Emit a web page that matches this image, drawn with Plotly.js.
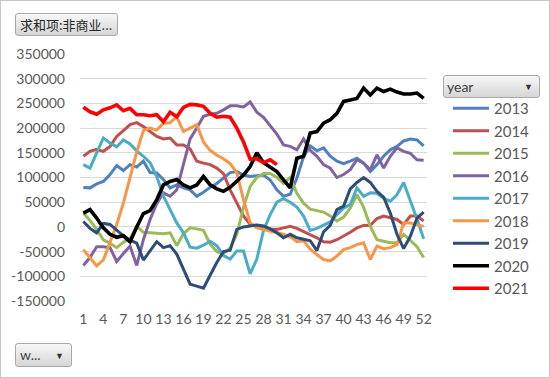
<!DOCTYPE html>
<html>
<head>
<meta charset="utf-8">
<script src="https://cdn.plot.ly/plotly-3.0.1.min.js"></script>
<style>
  html, body { margin: 0; padding: 0; background: #ffffff; }
  #wrap { position: relative; width: 550px; height: 378px; overflow: hidden; }
  #chart { position: absolute; left: 0; top: 0; width: 550px; height: 378px; }
  #frame { position: absolute; left: 0; top: 0; width: 548px; height: 376px; border: 1px solid #c8c8c8; pointer-events: none; }
  .btn { position: absolute; box-sizing: border-box; border: 1px solid #a9a9a9; border-radius: 3px;
         background: linear-gradient(#f7f7f7, #d6d6d6); color: #262626; font-size: 14px; line-height: 21px;
         font-family: "Noto Sans CJK SC", "Lato", sans-serif; white-space: nowrap; }
  .arrow { position: absolute; top: 0; font-size: 9px; color: #333; }
</style>
</head>
<body>
<div id="wrap">
  <div id="chart"></div>
  <div class="btn" style="left:15px;top:13px;width:103px;height:23px;padding-left:4px;font-size:13px;">求和项:非商业...</div>
  <div class="btn" style="left:15px;top:343px;width:57px;height:24px;padding-left:4px;font-family:Lato,sans-serif;color:#404040;">w...<span class="arrow" style="left:39px;top:1px;">▼</span></div>
  <div class="btn" style="left:443px;top:75px;width:97px;height:23px;padding-left:3px;font-family:Lato,sans-serif;color:#404040;">year<span class="arrow" style="left:80px;top:0px;">▼</span></div>
  <div id="frame"></div>
</div>
<script>
// Week categories (x)
const weeks = [1,2,3,4,5,6,7,8,9,10,11,12,13,14,15,16,17,18,19,20,21,22,23,24,25,26,
               27,28,29,30,31,32,33,34,35,36,37,38,39,40,41,42,43,44,45,46,47,48,49,50,51,52];
const xTickVals = [1,4,7,10,13,16,19,22,25,28,31,34,37,40,43,46,49,52];
const yTickVals = [-150000,-100000,-50000,0,50000,100000,150000,200000,250000,300000,350000];
const yTickText = ["-150000","-100000","-50000","0","50000","100000","150000","200000","250000","300000","350000"];
const years = ["2013","2014","2015","2016","2017","2018","2019","2020","2021"];

const y2013 = [80000,79000,87000,92000,106000,124000,114000,126000,121000,133000,110000,109000,96000,79000,85000,79000,75000,62000,70000,80000,88000,100000,110000,112000,105000,102000,104000,105000,95000,75000,62000,66000,99000,142000,164000,154000,160000,143000,133000,128000,133000,139000,129000,112000,126000,143000,156000,163000,174000,178000,176000,164000];
const y2014 = [143000,153000,157000,153000,163000,183000,195000,207000,211000,203000,193000,183000,178000,180000,166000,166000,158000,133000,129000,126000,119000,108000,75000,48000,22000,5000,1000,-2000,-4000,-5000,-2000,1000,-3000,-9000,-15000,-22000,-30000,-31000,-26000,-19000,-11000,-2000,3000,3000,17000,22000,19000,15000,5000,22000,22000,12000];
const y2015 = [28000,13000,-5000,-26000,-33000,-42000,-31000,-24000,1000,-11000,-12000,-13000,-14000,-12000,-38000,-14000,-2000,-4000,-7000,-35000,-50000,-54000,-43000,-15000,40000,82000,100000,108000,108000,100000,88000,100000,68000,48000,36000,33000,30000,22000,12000,20000,38000,65000,40000,1000,-26000,-29000,-32000,-32000,-15000,-27000,-40000,-62000];
const y2016 = [-78000,-62000,-40000,-40000,-42000,-70000,-54000,-39000,-78000,-26000,15000,47000,69000,62000,75000,125000,178000,200000,224000,228000,230000,237000,245000,245000,243000,253000,232000,222000,206000,188000,166000,163000,156000,178000,155000,143000,126000,119000,100000,106000,116000,136000,129000,116000,146000,119000,143000,160000,153000,149000,136000,135000];
const y2017 = [126000,119000,150000,180000,170000,162000,176000,168000,154000,143000,130000,102000,62000,35000,8000,-12000,-41000,-43000,-37000,-29000,-38000,-58000,-65000,-49000,-49000,-95000,-65000,-7000,25000,50000,57000,50000,40000,22000,-7000,-3000,3000,10000,25000,38000,45000,79000,62000,69000,68000,58000,52000,65000,90000,55000,16000,-24000];
const y2018 = [-46000,-62000,-79000,-67000,-32000,5000,48000,103000,152000,195000,200000,196000,210000,211000,223000,193000,200000,207000,172000,155000,145000,138000,128000,110000,55000,8000,-2000,-5000,-8000,-12000,-15000,-20000,-30000,-28000,-45000,-56000,-66000,-69000,-59000,-46000,-42000,-36000,-32000,-66000,-39000,-44000,-42000,-36000,8000,8000,5000,1000];
const y2019 = [11000,-3000,-12000,7000,5000,-6000,-18000,-27000,-33000,-67000,-48000,-30000,-42000,-38000,-55000,-85000,-116000,-120000,-124000,-98000,-72000,-50000,-47000,-5000,0,2000,4000,2000,-4000,-12000,-22000,-15000,-22000,-25000,-28000,-48000,-10000,3000,35000,42000,77000,90000,100000,90000,72000,60000,28000,-15000,-44000,-19000,18000,30000];
const y2020 = [28000,35000,18000,-2000,-15000,-21000,-18000,-30000,0,27000,33000,55000,85000,92000,96000,85000,79000,85000,102000,85000,77000,72000,80000,92000,105000,122000,150000,130000,122000,112000,95000,79000,139000,143000,190000,193000,210000,217000,230000,254000,257000,260000,281000,267000,281000,274000,279000,273000,269000,269000,271000,260000];
const y2021 = [242000,233000,228000,237000,241000,247000,235000,240000,227000,227000,225000,227000,213000,232000,223000,242000,248000,247000,244000,230000,222000,224000,222000,200000,172000,137000,138000,130000,136000,126000];

const seriesValues = [y2013,y2014,y2015,y2016,y2017,y2018,y2019,y2020,y2021];
const colors = ["#4F81BD","#C0504D","#9BBB59","#8064A2","#4BACC6","#F79646","#2C4D75","#000000","#FF0000"];
const widths = [3,3,3,3,3,3,3,3.6,3.6];

const traces = years.map((yr, i) => ({
  type: "scatter",
  mode: "lines",
  name: yr,
  x: weeks.slice(0, seriesValues[i].length),
  y: seriesValues[i],
  line: { color: colors[i], width: widths[i] }
}));

const font = { family: "Lato, 'Open Sans', sans-serif", size: 14, color: "#595959" };

const layout = {
  width: 550,
  height: 378,
  paper_bgcolor: "#ffffff",
  plot_bgcolor: "#ffffff",
  margin: { l: 80, r: 123, t: 54, b: 77 },
  font: font,
  showlegend: true,
  legend: {
    xref: "container", yref: "container",
    x: 448 / 550, y: 1 - 92 / 378, xanchor: "left", yanchor: "top",
    font: { family: "Lato, sans-serif", size: 15, color: "#595959" },
    bgcolor: "rgba(0,0,0,0)",
    itemwidth: 36,
    tracegroupgap: 0,
    maxheight: 280
  },
  xaxis: {
    range: [0.5, 52.5],
    tickmode: "array",
    tickvals: xTickVals,
    ticktext: xTickVals.map(String),
    showgrid: false,
    zeroline: false,
    showline: false,
    ticks: "",
    ticklabelstandoff: 8,
    tickfont: font
  },
  yaxis: {
    range: [-150000, 350000],
    tickmode: "array",
    tickvals: yTickVals,
    ticktext: yTickText,
    showgrid: true,
    gridcolor: "#d9d9d9",
    gridwidth: 1,
    zeroline: false,
    showline: false,
    ticks: "",
    ticklabelstandoff: 14,
    tickfont: font
  }
};

Plotly.newPlot("chart", traces, layout, { staticPlot: true, displayModeBar: false });
</script>
</body>
</html>
